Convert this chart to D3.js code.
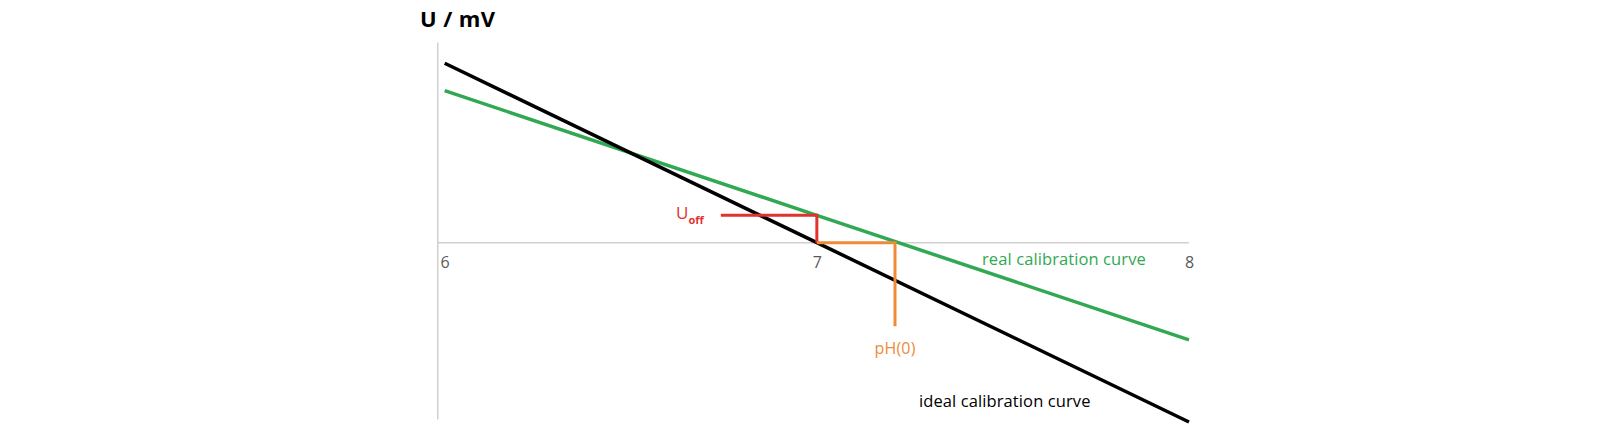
<!DOCTYPE html>
<html>
<head>
<meta charset="utf-8">
<script src="https://cdn.jsdelivr.net/npm/d3@7"></script>
<style>
  body { margin: 0; background: #fff; }
  text { font-family: "Open Sans", "Noto Sans", sans-serif; }
</style>
</head>
<body>
<div id="chart"></div>
<script>
// pH values and cell voltage (mV)
const phTicks = [6, 7, 8];
const idealU = [59, 0, -59];
const realU = [50, 9, -32];
const pH0 = 7.21;      // where the real curve crosses 0 mV
const uOff = 9;        // real curve voltage at pH 7

const width = 1600, height = 430;

const svg = d3.select('#chart')
    .append('svg')
    .attr('width', width)
    .attr('height', height);

// Scales
const x = d3.scaleLinear().domain([6, 8]).range([444.7, 1189]);
const y = d3.scaleLinear().domain([-58, 66]).range([419, 42]);
const axisColor = '#d0d0d0';

// Vertical axis (no ticks)
svg.append('g')
    .attr('transform', `translate(${x(5.98)},0)`)
    .call(d3.axisLeft(y).tickValues([]).tickSizeOuter(0))
    .call(g => g.select('.domain').attr('stroke', axisColor).attr('stroke-width', 1.5));

// Horizontal axis at 0 mV
svg.append('line')
    .attr('x1', x(5.98)).attr('x2', x(8))
    .attr('y1', y(0)).attr('y2', y(0))
    .attr('stroke', axisColor)
    .attr('stroke-width', 1.5);

// Tick labels
svg.append('g')
    .attr('transform', `translate(0,${y(0)})`)
    .call(d3.axisBottom(x).tickValues(phTicks).tickSize(0).tickPadding(14).tickFormat(d3.format('d')))
    .call(g => g.select('.domain').remove())
    .call(g => g.selectAll('text')
        .attr('fill', '#595959')
        .style('font-size', '16px')
        .style('font-family', '"Open Sans", sans-serif'));

// Axis title
svg.append('text')
    .attr('x', 420)
    .attr('y', 27)
    .attr('font-size', 22)
    .attr('font-weight', 'bold')
    .attr('letter-spacing', 0.4)
    .attr('font-family', '"DejaVu Sans", sans-serif')
    .attr('fill', '#000')
    .text('U / mV');

const line = d3.line()
    .x((d, i) => x(phTicks[i]))
    .y(d => y(d));

// Curves
svg.append('path')
    .datum(realU)
    .attr('d', line)
    .attr('fill', 'none')
    .attr('stroke', '#31a852')
    .attr('stroke-width', 3.5);

svg.append('path')
    .datum(idealU)
    .attr('d', line)
    .attr('fill', 'none')
    .attr('stroke', '#000')
    .attr('stroke-width', 3.5);

// U_off marker (red)
svg.append('path')
    .attr('d', `M${x(6.742)},${y(uOff)}H${x(7)}V${y(0)}`)
    .attr('fill', 'none')
    .attr('stroke', '#e2322d')
    .attr('stroke-width', 3);

// pH(0) marker (orange)
svg.append('path')
    .attr('d', `M${x(7)},${y(0)}H${x(pH0)}V${y(-27.5)}`)
    .attr('fill', 'none')
    .attr('stroke', '#ed8b3b')
    .attr('stroke-width', 3);

// Labels
const uLabel = svg.append('text')
    .attr('x', 676)
    .attr('y', 219)
    .attr('fill', '#e2322d')
    .attr('font-size', 17);
uLabel.append('tspan').text('U');
uLabel.append('tspan')
    .attr('dy', 5)
    .attr('font-size', 11)
    .attr('font-weight', 'bold')
    .text('off');

svg.append('text')
    .attr('x', x(pH0))
    .attr('y', 354)
    .attr('text-anchor', 'middle')
    .attr('fill', '#ed8b3b')
    .attr('font-size', 16)
    .attr('letter-spacing', 0.2)
    .text('pH(0)');

svg.append('text')
    .attr('x', 982)
    .attr('y', 265)
    .attr('fill', '#31a852')
    .attr('font-size', 16.5)
    .attr('letter-spacing', 0.1)
    .text('real calibration curve');

svg.append('text')
    .attr('x', 919)
    .attr('y', 407)
    .attr('fill', '#000')
    .attr('font-size', 16.5)
    .attr('letter-spacing', 0.1)
    .text('ideal calibration curve');
</script>
</body>
</html>
